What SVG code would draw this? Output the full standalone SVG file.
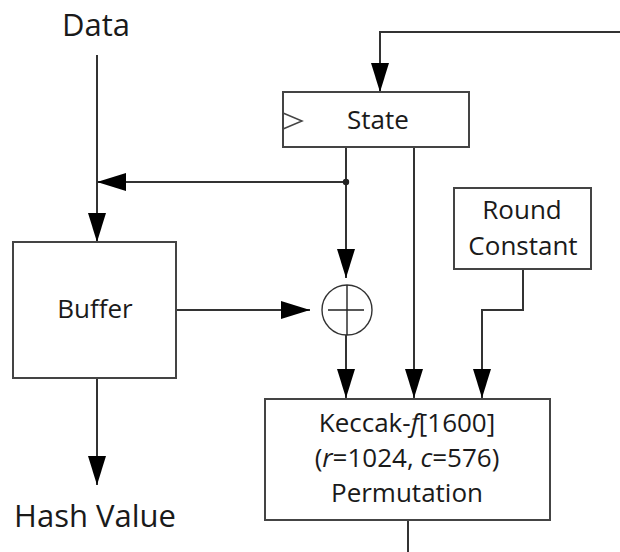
<svg xmlns="http://www.w3.org/2000/svg" width="620" height="552" viewBox="0 0 620 552">
<defs>
<style>
.box{fill:#fff;stroke:#444;stroke-width:2}
.ln{fill:none;stroke:#333;stroke-width:2}
.t{font-family:"Open Sans","Noto Sans",sans-serif;fill:#1a1a1a;text-anchor:middle}
.big{font-size:31px}
.mid{font-size:26px}
</style>
<marker id="ah" markerUnits="userSpaceOnUse" markerWidth="29" markerHeight="18" refX="29" refY="9" orient="auto">
<path d="M0,0 L29,9 L0,18 z" fill="#000"/>
</marker>
</defs>
<rect width="620" height="552" fill="#fff"/>
<g id="connectors">
<path class="ln" d="M620,32 H380 V92" marker-end="url(#ah)"/>
<path class="ln" d="M97,55 V242" marker-end="url(#ah)"/>
<path class="ln" d="M346,182 H97" marker-end="url(#ah)"/>
<path class="ln" d="M346,147 V278" marker-end="url(#ah)"/>
<circle cx="346" cy="182" r="3.2" fill="#222"/>
<path class="ln" d="M346,335 V398" marker-end="url(#ah)"/>
<path class="ln" d="M414,147 V398" marker-end="url(#ah)"/>
<path class="ln" d="M523,269 V310 H482 V398" marker-end="url(#ah)"/>
<path class="ln" d="M408,520 V552"/>
<path class="ln" d="M176,310 H310" stroke="#111" stroke-width="1.6" marker-end="url(#ah)"/>
<path class="ln" d="M97,378 V485" marker-end="url(#ah)"/>
</g>
<g id="data"><text class="t big" x="96" y="36">Data</text></g>
<g id="hash"><text class="t big" x="95" y="527">Hash Value</text></g>
<g id="state">
<rect class="box" x="283" y="92" width="186" height="55"/>
<path d="M283,113 L302,121 L283,129" fill="none" stroke="#444" stroke-width="1.5"/>
<text class="t mid" x="378" y="129">State</text>
</g>
<g id="buffer">
<rect class="box" x="13" y="242" width="163" height="136"/>
<text class="t mid" x="95" y="318">Buffer</text>
</g>
<g id="xor">
<circle cx="347" cy="310" r="25" fill="#fff" stroke="#333" stroke-width="1.4"/>
<path d="M347,285 V335 M328,310 H364" stroke="#222" stroke-width="1.4"/>
</g>
<g id="round">
<rect class="box" x="454" y="188" width="137" height="81"/>
<text class="t mid" x="522" y="219">Round</text>
<text class="t mid" x="523" y="255">Constant</text>
</g>
<g id="keccak">
<rect class="box" x="265" y="399" width="285" height="121"/>
<text class="t mid" x="407" y="432">Keccak-<tspan font-style="italic">f</tspan>[1600]</text>
<text class="t mid" x="407" y="467">(<tspan font-style="italic">r</tspan>=1024, <tspan font-style="italic">c</tspan>=576)</text>
<text class="t mid" x="407" y="502">Permutation</text>
</g>
</svg>
